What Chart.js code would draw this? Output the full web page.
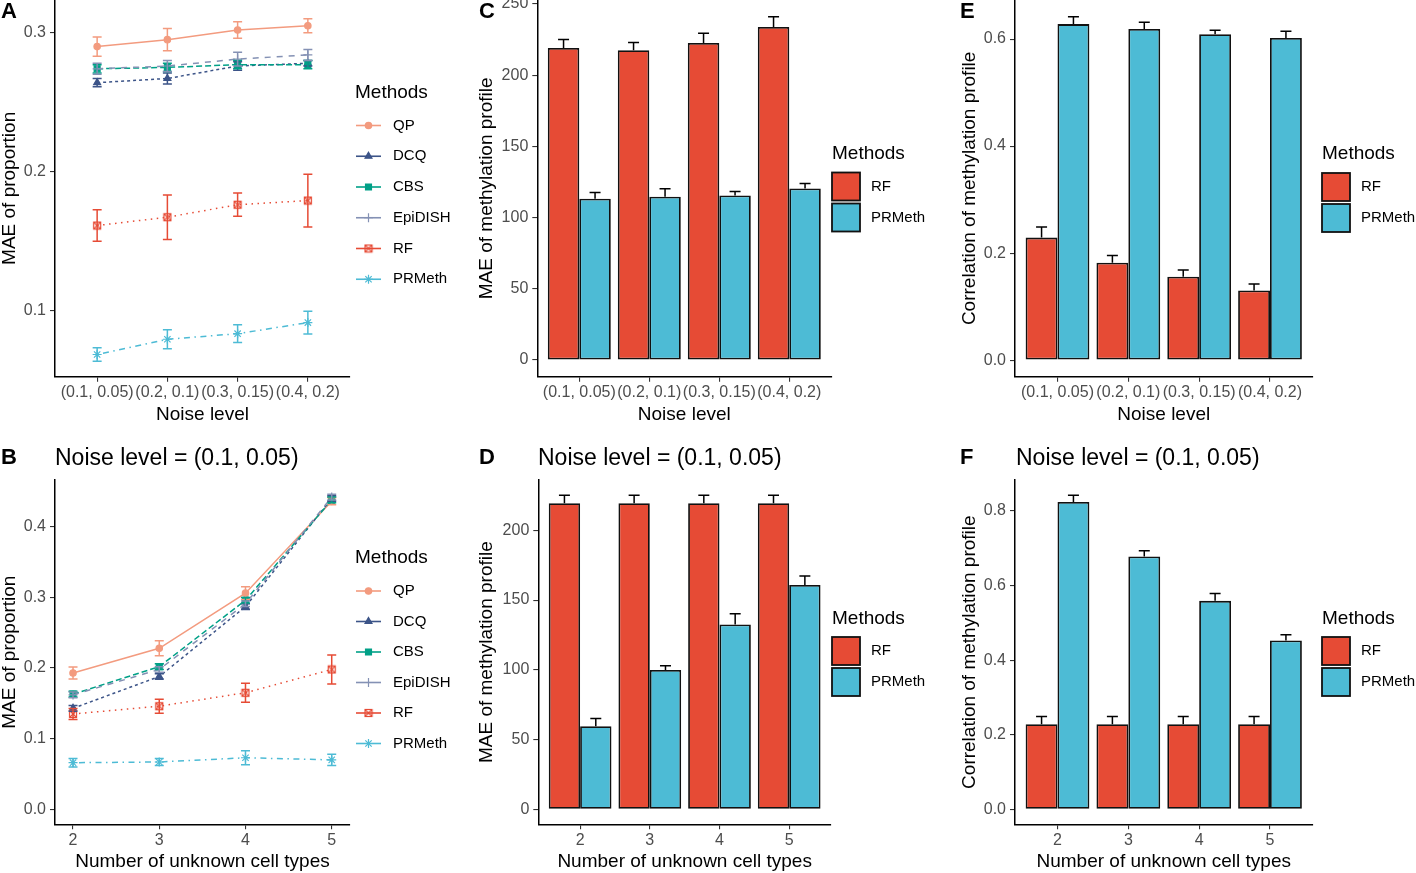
<!DOCTYPE html>
<html>
<head>
<meta charset="utf-8">
<script src="https://cdn.jsdelivr.net/npm/chart.js@4.4.1/dist/chart.umd.min.js"></script>
<style>
  body { margin: 0; background: #fff; width: 1416px; height: 873px; position: relative; overflow: hidden;
         font-family: "Liberation Sans", Arial, sans-serif; }
  canvas { position: absolute; display: block; }
  .tag { position: absolute; font-weight: bold; font-size: 22px; line-height: 22px; color: #000; }
  .ttl { position: absolute; font-size: 23px; line-height: 23px; color: #000; white-space: nowrap; }
</style>
</head>
<body>
<canvas id="chartA" width="470" height="430" style="left:0;top:0"></canvas>
<canvas id="chartB" width="470" height="433" style="left:0;top:440px"></canvas>
<canvas id="chartC" width="475" height="430" style="left:475px;top:0"></canvas>
<canvas id="chartD" width="475" height="433" style="left:475px;top:440px"></canvas>
<canvas id="chartE" width="466" height="430" style="left:950px;top:0"></canvas>
<canvas id="chartF" width="466" height="433" style="left:950px;top:440px"></canvas>

<div class="tag" style="left:1px;top:0">A</div>
<div class="tag" style="left:1px;top:446px">B</div>
<div class="tag" style="left:479px;top:0">C</div>
<div class="tag" style="left:479px;top:446px">D</div>
<div class="tag" style="left:960px;top:0">E</div>
<div class="tag" style="left:960px;top:446px">F</div>
<div class="ttl" style="left:55px;top:446px">Noise level = (0.1, 0.05)</div>
<div class="ttl" style="left:538px;top:446px">Noise level = (0.1, 0.05)</div>
<div class="ttl" style="left:1016px;top:446px">Noise level = (0.1, 0.05)</div>

<script>
// categories
const noiseLevels = ['(0.1, 0.05)', '(0.2, 0.1)', '(0.3, 0.15)', '(0.4, 0.2)'];
const cellTypes = [2, 3, 4, 5];
const methods = ['QP', 'DCQ', 'CBS', 'EpiDISH', 'RF', 'PRMeth'];
const barMethods = ['RF', 'PRMeth'];

// A: MAE of proportion by noise level (mean, sd)
const qpA = [0.290, 0.295, 0.302, 0.305];
const qpAErr = [0.007, 0.008, 0.006, 0.005];
const dcqA = [0.264, 0.267, 0.276, 0.278];
const dcqAErr = [0.003, 0.004, 0.003, 0.002];
const cbsA = [0.274, 0.275, 0.277, 0.277];
const cbsAErr = [0.003, 0.003, 0.003, 0.003];
const epiA = [0.274, 0.276, 0.281, 0.284];
const epiAErr = [0.004, 0.004, 0.005, 0.004];
const rfA = [0.161, 0.167, 0.176, 0.179];
const rfAErr = [0.0114, 0.016, 0.0084, 0.019];
const prA = [0.068, 0.079, 0.083, 0.091];
const prAErr = [0.0048, 0.0069, 0.0064, 0.0082];

// B: MAE of proportion by number of unknown cell types
const qpB = [0.193, 0.228, 0.306, 0.436];
const qpBErr = [0.0085, 0.0106, 0.009, 0.005];
const dcqB = [0.143, 0.188, 0.287, 0.440];
const dcqBErr = [0.004, 0.004, 0.004, 0.004];
const cbsB = [0.163, 0.202, 0.296, 0.438];
const cbsBErr = [0.004, 0.004, 0.004, 0.004];
const epiB = [0.162, 0.198, 0.291, 0.442];
const epiBErr = [0.004, 0.004, 0.004, 0.004];
const rfB = [0.135, 0.146, 0.165, 0.198];
const rfBErr = [0.0078, 0.0099, 0.0135, 0.0205];
const prB = [0.066, 0.067, 0.073, 0.070];
const prBErr = [0.006, 0.005, 0.01, 0.0078];

// C, D: MAE of methylation profile
const rfC = [219.1, 217.5, 222.6, 233.8];
const rfCErr = [6.0, 5.5, 6.8, 7.2];
const prC = [113.3, 114.7, 115.6, 120.5];
const prCErr = [4.4, 5.6, 2.8, 3.5];
const rfD = [219.4, 219.4, 219.4, 219.4];
const rfDErr = [5.7, 5.7, 5.7, 5.7];
const prD = [59.6, 99.8, 132.5, 160.8];
const prDErr = [5.5, 3.1, 7.7, 6.4];

// E, F: correlation of methylation profile
const rfE = [0.229, 0.182, 0.156, 0.130];
const rfEErr = [0.020, 0.0136, 0.0122, 0.0124];
const prE = [0.628, 0.619, 0.609, 0.602];
const prEErr = [0.0137, 0.0125, 0.0075, 0.0124];
const rfF = [0.228, 0.228, 0.228, 0.228];
const rfFErr = [0.0206, 0.0206, 0.0206, 0.0206];
const prF = [0.824, 0.678, 0.559, 0.453];
const prFErr = [0.018, 0.0155, 0.0199, 0.0153];

// tick labels
const ticksA = [0.1, 0.2, 0.3];
const ticksB = [0.0, 0.1, 0.2, 0.3, 0.4];
const ticksC = [0, 50, 100, 150, 200, 250];
const ticksD = [0, 50, 100, 150, 200];
const ticksE = [0.0, 0.2, 0.4, 0.6];
const ticksF = [0.0, 0.2, 0.4, 0.6, 0.8];

// styles (npg palette)
const FONT = '"Liberation Sans", Arial, sans-serif';
const methodColors = ['#F39B7F', '#3C5488', '#00A087', '#8491B4', '#E64B35', '#4DBBD5'];
const methodDash = [[], [3, 3], [6, 3], [6, 6], [1.5, 4.5], [1.5, 4.5, 6, 4.5]];
const barColors = ['#E64B35', '#4DBBD5'];

Chart.defaults.font.family = FONT;

// square with a cross, like ggplot shape 7
function squareCross(color) {
  const c = document.createElement('canvas');
  c.width = 10; c.height = 10;
  const g = c.getContext('2d');
  g.strokeStyle = color; g.lineWidth = 1.2;
  g.strokeRect(1.5, 1.5, 7, 7);
  g.beginPath();
  g.moveTo(1.5, 1.5); g.lineTo(8.5, 8.5);
  g.moveTo(8.5, 1.5); g.lineTo(1.5, 8.5);
  g.stroke();
  return c;
}
const methodPoint = ['circle', 'triangle', 'rect', 'cross', squareCross(methodColors[4]), 'star'];
const methodRadius = [3.2, 4, 4.2, 4.5, 5, 4.5];

// error bars drawn from dataset.errors
const errorBars = {
  id: 'errorBars',
  afterDatasetsDraw(chart) {
    const ctx = chart.ctx;
    const ys = chart.scales.y;
    chart.data.datasets.forEach((ds, di) => {
      if (!ds.errors) return;
      const meta = chart.getDatasetMeta(di);
      ctx.save();
      ctx.strokeStyle = ds.errorColor || ds.borderColor;
      ctx.lineWidth = 1.5;
      ctx.setLineDash([]);
      meta.data.forEach((el, i) => {
        const v = ds.data[i].y, e = ds.errors[i];
        const top = ys.getPixelForValue(v + e);
        const bot = ys.getPixelForValue(ds.upperOnly ? v : v - e);
        const h = ds.capHalf;
        ctx.beginPath();
        ctx.moveTo(el.x, top); ctx.lineTo(el.x, bot);
        ctx.moveTo(el.x - h, top); ctx.lineTo(el.x + h, top);
        if (!ds.upperOnly) { ctx.moveTo(el.x - h, bot); ctx.lineTo(el.x + h, bot); }
        ctx.stroke();
      });
      ctx.restore();
    });
  }
};

// ggplot-like legend on the right of the panel
function legendPlugin(cfg) {
  return {
    id: 'ggLegend',
    afterDraw(chart) {
      const ctx = chart.ctx;
      ctx.save();
      ctx.textBaseline = 'middle';
      ctx.textAlign = 'left';
      ctx.fillStyle = '#000';
      ctx.font = '19px ' + FONT;
      ctx.fillText('Methods', cfg.x, cfg.titleY);
      ctx.font = '15px ' + FONT;
      cfg.items.forEach((it, i) => {
        const cy = cfg.firstY + i * cfg.gap;
        if (cfg.kind === 'line') {
          ctx.strokeStyle = it.color;
          ctx.fillStyle = it.color;
          ctx.lineWidth = 1.6;
          ctx.setLineDash([]);
          ctx.beginPath();
          ctx.moveTo(cfg.x + 1, cy); ctx.lineTo(cfg.x + 26, cy);
          ctx.stroke();
          ctx.lineWidth = 1.2;
          Chart.helpers.drawPoint(ctx, { pointStyle: it.pointStyle, radius: it.radius, rotation: 0, borderWidth: 1.2 }, cfg.x + 13.5, cy);
        } else {
          ctx.fillStyle = it.color;
          ctx.strokeStyle = '#111';
          ctx.lineWidth = 1.8;
          ctx.fillRect(cfg.x, cy - cfg.box / 2, cfg.box, cfg.box);
          ctx.strokeRect(cfg.x, cy - cfg.box / 2, cfg.box, cfg.box);
        }
        ctx.fillStyle = '#000';
        ctx.fillText(it.label, cfg.labelX, cy);
      });
      ctx.restore();
    }
  };
}

function yAxis(min, max, ticks, title, width, titlePad, fmt) {
  return {
    type: 'linear', position: 'left', min: min, max: max,
    afterBuildTicks: s => { s.ticks = ticks.map(v => ({ value: v })); },
    afterFit: s => { s.width = width; s.paddingTop = 0; s.paddingBottom = 0; },
    grid: { drawOnChartArea: false, drawTicks: true, tickLength: 5, color: '#333', lineWidth: 1.1 },
    border: { display: true, color: '#000', width: 1.5 },
    ticks: { color: '#4D4D4D', font: { size: 16 }, padding: 4, callback: v => fmt(v) },
    title: { display: true, text: title, color: '#000', font: { size: 19, lineHeight: 1 }, padding: { top: titlePad, bottom: 0 } }
  };
}

function xAxis(min, max, values, labels, title, height, titlePad) {
  return {
    type: 'linear', position: 'bottom', min: min, max: max, offset: false,
    afterBuildTicks: s => { s.ticks = values.map(v => ({ value: v })); },
    afterFit: s => { s.height = height; s.paddingLeft = 0; s.paddingRight = 0; },
    grid: { drawOnChartArea: false, drawTicks: true, tickLength: 5, color: '#333', lineWidth: 1.1, offset: false },
    border: { display: true, color: '#000', width: 1.5 },
    ticks: { color: '#4D4D4D', font: { size: 16 }, padding: 1.5, autoSkip: false, maxRotation: 0, minRotation: 0,
             callback: (v, i) => String(labels[i]) },
    title: { display: true, text: title, color: '#000', font: { size: 19, lineHeight: 1 }, padding: { top: 0, bottom: titlePad } }
  };
}

function lineSets(xs, series, errs) {
  return series.map((vals, m) => ({
    label: methods[m],
    data: vals.map((v, i) => ({ x: xs[i], y: v })),
    errors: errs[m],
    capHalf: 4.5,
    borderColor: methodColors[m],
    backgroundColor: methodColors[m],
    borderWidth: 1.5,
    borderDash: methodDash[m],
    pointStyle: methodPoint[m],
    pointRadius: methodRadius[m],
    pointBorderWidth: 1.2,
    pointBackgroundColor: methodColors[m],
    pointBorderColor: methodColors[m],
    tension: 0,
    order: methods.length - m
  }));
}

function barSets(series, errs) {
  return series.map((vals, m) => ({
    label: barMethods[m],
    data: vals.map((v, i) => ({ x: i, y: v })),
    errors: errs[m],
    upperOnly: true,
    errorColor: '#000',
    capHalf: 5.5,
    backgroundColor: barColors[m],
    borderColor: '#111',
    borderWidth: 1.8,
    borderSkipped: false,
    categoryPercentage: 0.9,
    barPercentage: 1.0
  }));
}

const lineLegendItems = methods.map((m, i) => ({ label: m, color: methodColors[i], pointStyle: methodPoint[i], radius: methodRadius[i] }));
const barLegendItems = barMethods.map((m, i) => ({ label: m, color: barColors[i] }));

const baseOpts = {
  responsive: false,
  animation: false,
  events: [],
  plugins: { legend: { display: false }, tooltip: { enabled: false }, title: { display: false } }
};

function makeChart(id, type, datasets, padding, xScale, yScale, legendCfg) {
  return new Chart(document.getElementById(id), {
    type: type,
    data: { datasets: datasets },
    options: Object.assign({}, baseOpts, {
      layout: { padding: padding, autoPadding: false },
      scales: { x: xScale, y: yScale }
    }),
    plugins: [errorBars, legendPlugin(legendCfg)]
  });
}

const fmt1 = v => v.toFixed(1);
const fmt0 = v => String(v);
const idx = noiseLevels.map((_, i) => i);

// A
makeChart('chartA', 'line',
  lineSets(idx, [qpA, dcqA, cbsA, epiA, rfA, prA], [qpAErr, dcqAErr, cbsAErr, epiAErr, rfAErr, prAErr]),
  { left: 0, top: 0, right: 120, bottom: 0 },
  xAxis(-0.6, 3.6, idx, noiseLevels, 'Noise level', 53.3, 5.5),
  yAxis(0.052, 0.3236, ticksA, 'MAE of proportion', 55, 0.5, fmt1),
  { kind: 'line', items: lineLegendItems, x: 355, titleY: 93, firstY: 125.5, gap: 30.75, labelX: 393 });

// B
makeChart('chartB', 'line',
  lineSets(cellTypes, [qpB, dcqB, cbsB, epiB, rfB, prB], [qpBErr, dcqBErr, cbsBErr, epiBErr, rfBErr, prBErr]),
  { left: 0, top: 40, right: 120, bottom: 0 },
  xAxis(1.791, 5.212, cellTypes, cellTypes, 'Number of unknown cell types', 48.7, 1.5),
  yAxis(-0.0212, 0.4662, ticksB, 'MAE of proportion', 55, 0.5, fmt1),
  { kind: 'line', items: lineLegendItems, x: 355, titleY: 117.5, firstY: 151, gap: 30.5, labelX: 393 });

// C
makeChart('chartC', 'bar',
  barSets([rfC, prC], [rfCErr, prCErr]),
  { left: 0, top: 0, right: 118.7, bottom: 0 },
  xAxis(-0.6, 3.6, idx, noiseLevels, 'Noise level', 53.3, 5.5),
  yAxis(-11.7, 252.8, ticksC, 'MAE of methylation profile', 62.3, 2.5, fmt0),
  { kind: 'box', items: barLegendItems, x: 357, titleY: 154, firstY: 186.5, gap: 31, box: 28, labelX: 396 });

// D
makeChart('chartD', 'bar',
  barSets([rfD, prD], [rfDErr, prDErr]),
  { left: 0, top: 40, right: 119, bottom: 0 },
  xAxis(-0.6, 3.6, idx, cellTypes, 'Number of unknown cell types', 48.7, 1.5),
  yAxis(-10.8, 236.1, ticksD, 'MAE of methylation profile', 63.3, 2.5, fmt0),
  { kind: 'box', items: barLegendItems, x: 357, titleY: 179, firstY: 211, gap: 31, box: 28, labelX: 396 });

// E
makeChart('chartE', 'bar',
  barSets([rfE, prE], [rfEErr, prEErr]),
  { left: 0, top: 0, right: 103.5, bottom: 0 },
  xAxis(-0.6, 3.6, idx, noiseLevels, 'Noise level', 53.3, 5.5),
  yAxis(-0.031, 0.673, ticksE, 'Correlation of methylation profile', 65, 10, fmt1),
  { kind: 'box', items: barLegendItems, x: 372, titleY: 154, firstY: 187, gap: 31, box: 28, labelX: 411 });

// F
makeChart('chartF', 'bar',
  barSets([rfF, prF], [rfFErr, prFErr]),
  { left: 0, top: 40, right: 103.5, bottom: 0 },
  xAxis(-0.6, 3.6, idx, cellTypes, 'Number of unknown cell types', 48.7, 1.5),
  yAxis(-0.0403, 0.8832, ticksF, 'Correlation of methylation profile', 65, 10, fmt1),
  { kind: 'box', items: barLegendItems, x: 372, titleY: 179, firstY: 211, gap: 31, box: 28, labelX: 411 });
</script>
</body>
</html>
